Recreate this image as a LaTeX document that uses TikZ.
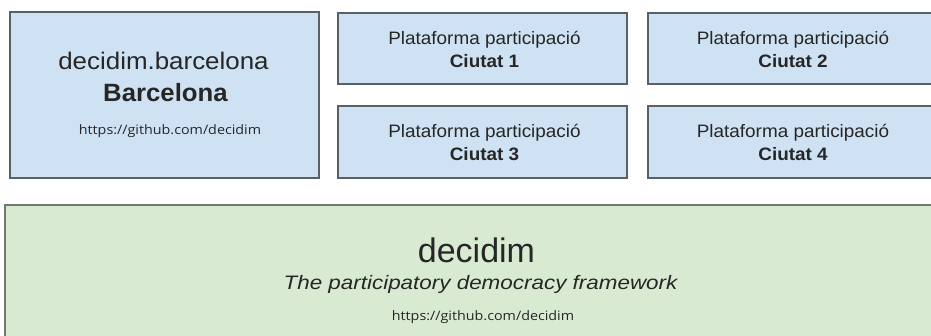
\documentclass[tikz,border=0pt]{standalone}
\usepackage{fontspec}
\usepackage{graphicx}
\setmainfont{Liberation Sans}
\newfontfamily\urlfont{Open Sans}
\definecolor{boxblue}{HTML}{CFE2F3}
\definecolor{boxgreen}{HTML}{D9EAD3}
\definecolor{edgeblue}{HTML}{5A6068}
\definecolor{edgegreen}{HTML}{6E7A6B}
\definecolor{ink}{HTML}{262626}
\newcommand{\sx}[2]{\scalebox{#1}[1]{#2}}
\begin{document}
\begin{tikzpicture}[x=1pt,y=-1pt,
  bluebox/.style={draw=edgeblue,fill=boxblue,line width=1.6pt,rectangle,inner sep=0pt},
  greenbox/.style={draw=edgegreen,fill=boxgreen,line width=1.6pt,rectangle,inner sep=0pt},
  txt/.style={anchor=base,inner sep=0pt,text=ink},
  plat/.style={txt,font=\fontsize{18}{20}\selectfont},
  city/.style={txt,font=\fontsize{18}{20}\selectfont\bfseries},
  urltxt/.style={txt,font=\fontsize{13}{15}\selectfont\urlfont}]
\useasboundingbox (0,0) rectangle (931,336);
\clip (0,0) rectangle (931,336);
\fill[white] (0,0) rectangle (931,336);
% boxes
\node[bluebox,minimum width=309pt,minimum height=166pt] (bcn) at (164.5,95) {};
\node[bluebox,minimum width=289pt,minimum height=71pt] (c1) at (482.5,48.5) {};
\node[bluebox,minimum width=289pt,minimum height=72pt] (c3) at (482.5,142) {};
\node[bluebox,minimum width=290pt,minimum height=71pt] (c2) at (793,48.5) {};
\node[bluebox,minimum width=290pt,minimum height=72pt] (c4) at (793,142) {};
\node[greenbox,minimum width=960pt,minimum height=160pt] (core) at (485,285) {};
% Barcelona box text
\node[txt,font=\fontsize{24}{28}\selectfont] (bcnname) at (163.5,70) {\sx{1.08}{decidim.barcelona}};
\node[txt,font=\fontsize{25}{28}\selectfont\bfseries] (bcncity) at (165.5,102) {\sx{1.03}{Barcelona}};
\node[urltxt] (bcnurl) at (170,135) {\sx{1.1}{https://github.com/decidim}};
% city boxes
\node[plat] (p1) at (484.5,45) {\sx{1.05}{Plataforma participació}};
\node[city] (n1) at (484.5,68) {\sx{1.05}{Ciutat 1}};
\node[plat] (p2) at (793,45) {\sx{1.05}{Plataforma participació}};
\node[city] (n2) at (793,68) {\sx{1.05}{Ciutat 2}};
\node[plat] (p3) at (484.5,138) {\sx{1.05}{Plataforma participació}};
\node[city] (n3) at (484.5,161) {\sx{1.05}{Ciutat 3}};
\node[plat] (p4) at (793,138) {\sx{1.05}{Plataforma participació}};
\node[city] (n4) at (793,161) {\sx{1.05}{Ciutat 4}};
% core box text
\node[txt,font=\fontsize{34}{38}\selectfont] (corename) at (476.5,263) {decidim};
\node[txt,font=\fontsize{19.5}{22}\selectfont\itshape] (coretag) at (480.5,290) {\sx{1.15}{The participatory democracy framework}};
\node[urltxt] (coreurl) at (483,321) {\sx{1.1}{https://github.com/decidim}};
\end{tikzpicture}
\end{document}
